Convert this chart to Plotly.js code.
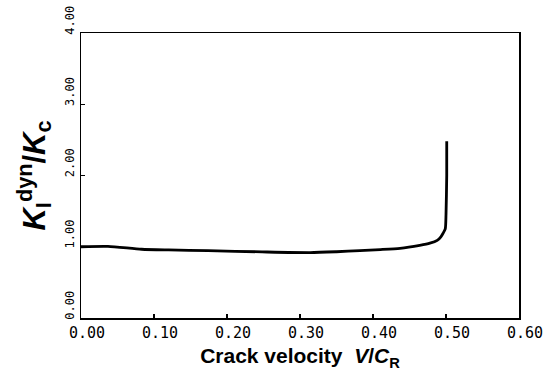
<!DOCTYPE html>
<html>
<head>
<meta charset="utf-8">
<script src="https://cdn.plot.ly/plotly-3.0.1.min.js"></script>
<style>html,body{margin:0;padding:0;background:#fff;}#chart{width:546px;height:377px;}</style>
</head>
<body>
<div id="chart"></div>
<script>
// Crack velocity ratio V/C_R
var velocity = [0.00, 0.037, 0.083, 0.12, 0.174, 0.248, 0.314, 0.35, 0.382, 0.41, 0.437, 0.464, 0.478, 0.488, 0.493, 0.496, 0.499, 0.500, 0.501, 0.501];
// Dynamic stress intensity ratio K_I^dyn / K_c
var kRatio   = [1.00, 1.005, 0.965, 0.955, 0.945, 0.928, 0.918, 0.93, 0.945, 0.96, 0.978, 1.02, 1.05, 1.09, 1.14, 1.19, 1.25, 1.45, 2.0, 2.48];
var xTicks = [0, 0.1, 0.2, 0.3, 0.4, 0.5, 0.6];
var xTickLabels = ["0.00", "0.10", "0.20", "0.30", "0.40", "0.50", "0.60"];
var yTicks = [0, 1, 2, 3, 4];
var yTickLabels = ["0.00", "1.00", "2.00", "3.00", "4.00"];

var trace = {
  x: velocity, y: kRatio, type: 'scatter', mode: 'lines',
  line: {color: '#000', width: 2.8, shape: 'spline', smoothing: 0.6},
  hoverinfo: 'skip'
};
var layout = {
  width: 546, height: 377,
  margin: {l: 81, r: 27, t: 33, b: 59},
  paper_bgcolor: '#fff', plot_bgcolor: '#fff',
  showlegend: false,
  xaxis: {
    range: [0, 0.6], tickvals: xTicks, ticktext: xTickLabels,
    ticks: 'inside', ticklen: 4, tickwidth: 1.5, tickcolor: '#000',
    showline: true, linecolor: '#000', linewidth: 1.5, mirror: true,
    showgrid: false, zeroline: false,
    tickfont: {family: 'DejaVu Sans Mono', size: 15, color: '#000'},
    ticklabelshift: 6, ticklabeloverflow: 'allow',
    title: {text: 'Crack velocity  <i>V</i>/<i>C</i><sub>R</sub>', font: {family: 'Liberation Sans', size: 21, color: '#000', weight: 'bold'}, standoff: 8}
  },
  yaxis: {
    range: [0, 4], tickvals: yTicks, ticktext: yTickLabels,
    ticks: 'inside', ticklen: 4, tickwidth: 1.5, tickcolor: '#000',
    showline: true, linecolor: '#000', linewidth: 1.5, mirror: true,
    showgrid: false, zeroline: false,
    tickfont: {family: 'DejaVu Sans Mono', size: 12, color: '#000'},
    tickangle: -90, ticklabelshift: -11, ticklabelstandoff: 1, ticklabeloverflow: 'allow',
    title: {text: '<i>K</i><sub>I</sub><sup>dyn</sup>/<i>K</i><sub>c</sub>', font: {family: 'Liberation Sans', size: 31, color: '#000', weight: 'bold'}, standoff: 8}
  }
};
Plotly.newPlot('chart', [trace], layout, {staticPlot: true, displayModeBar: false});
</script>
</body>
</html>
